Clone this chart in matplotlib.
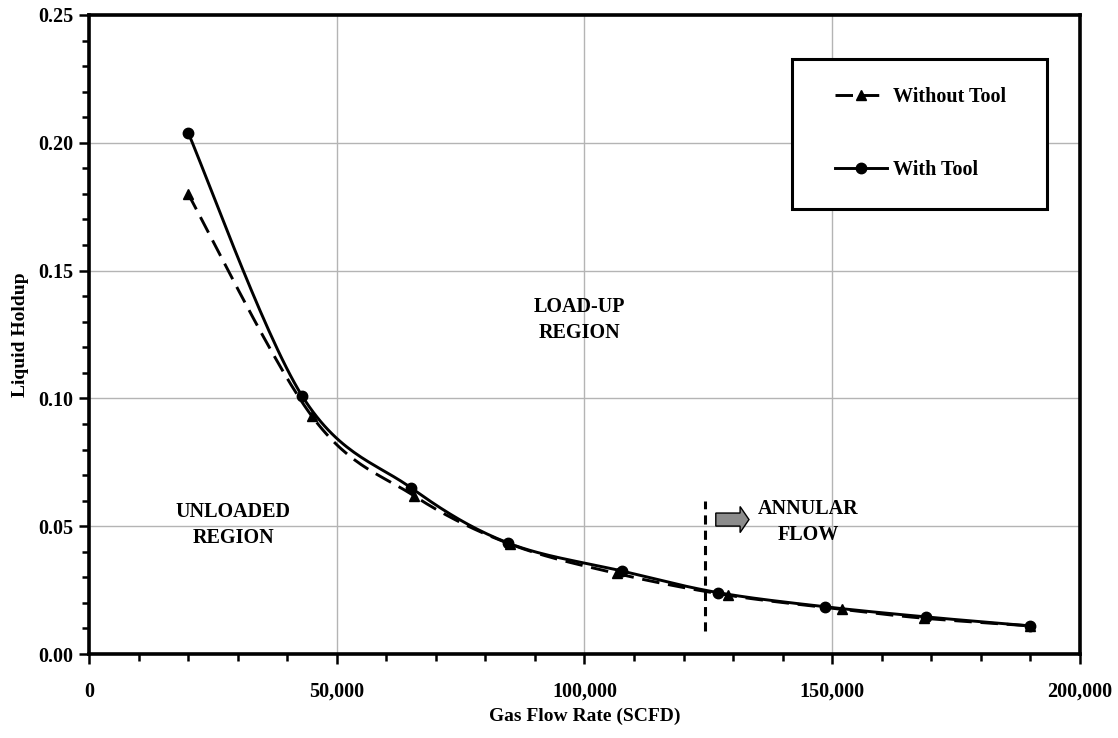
import numpy as np
import matplotlib
matplotlib.use("Agg")
import matplotlib.pyplot as plt
from matplotlib.patches import FancyArrow, Rectangle
from matplotlib.ticker import MultipleLocator, FuncFormatter

# Liquid holdup versus gas flow rate
gas_rate_without = [20000, 45000, 65500, 85000, 106500, 129000, 152000, 168500, 190000]
holdup_without = [0.180, 0.093, 0.062, 0.043, 0.0315, 0.023, 0.0175, 0.014, 0.011]

gas_rate_with = [20000, 43000, 65000, 84500, 107500, 127000, 148500, 169000, 190000]
holdup_with = [0.204, 0.101, 0.065, 0.0435, 0.0325, 0.024, 0.0185, 0.0145, 0.011]

series_labels = ["Without Tool", "With Tool"]
annular_boundary = 124300

plt.rcParams["font.family"] = ["Liberation Serif", "DejaVu Serif"]
plt.rcParams["font.weight"] = "bold"


def smooth_curve(x, y, n=30):
    """Bezier smoothing through the points (Catmull-Rom style)."""
    p = np.column_stack([x, y]).astype(float)
    ext = np.vstack([p[0], p, p[-1]])
    t = np.linspace(0, 1, n, endpoint=False)[:, None]
    segs = []
    for i in range(len(p) - 1):
        p0, p3 = p[i], p[i + 1]
        b1 = p0 + (ext[i + 2] - ext[i]) / 6.0
        b2 = p3 - (ext[i + 3] - ext[i + 1]) / 6.0
        segs.append((1 - t) ** 3 * p0 + 3 * (1 - t) ** 2 * t * b1
                    + 3 * (1 - t) * t ** 2 * b2 + t ** 3 * p3)
    segs.append(p[-1:])
    c = np.vstack(segs)
    marks = [i * n for i in range(len(p))]
    return c[:, 0], c[:, 1], marks


fig = plt.figure(figsize=(11.18, 7.38), dpi=100)
ax = fig.add_axes([0.0796, 0.1138, 0.966 - 0.0796, 0.9797 - 0.1138])

xs, ys, mk = smooth_curve(gas_rate_without, holdup_without)
ax.plot(xs, ys, color="black", lw=2.1, dashes=(6, 3), marker="^", ms=7.5,
        markevery=mk, label=series_labels[0], zorder=3)

xs, ys, mk = smooth_curve(gas_rate_with, holdup_with)
ax.plot(xs, ys, color="black", lw=2.1, marker="o", ms=7.5,
        markevery=mk, label=series_labels[1], zorder=3)

# boundary of annular flow
ax.plot([annular_boundary, annular_boundary], [0.009, 0.060], color="black",
        lw=2.2, dashes=(3, 2), zorder=3)
ax.add_patch(FancyArrow(126500, 0.0526, 6700, 0, width=0.0051,
                        head_width=0.0102, head_length=1800,
                        length_includes_head=True, fc="#8c8c8c", ec="black",
                        lw=1, zorder=3))

txt_kw = dict(ha="center", va="center", fontsize=14.5, fontweight="bold",
              linespacing=1.35)
ax.text(99000, 0.1307, "LOAD-UP\nREGION", **txt_kw)
ax.text(29100, 0.0505, "UNLOADED\nREGION", **txt_kw)
ax.text(145100, 0.0516, "ANNULAR\nFLOW", **txt_kw)

ax.set_xlim(0, 200000)
ax.set_ylim(0, 0.25)
ax.xaxis.set_major_locator(MultipleLocator(50000))
ax.xaxis.set_minor_locator(MultipleLocator(10000))
ax.yaxis.set_major_locator(MultipleLocator(0.05))
ax.yaxis.set_minor_locator(MultipleLocator(0.01))
ax.xaxis.set_major_formatter(FuncFormatter(lambda v, p: f"{v:,.0f}"))
ax.yaxis.set_major_formatter(FuncFormatter(lambda v, p: f"{v:.2f}"))
ax.tick_params(which="major", direction="out", length=7, width=1.8,
               labelsize=14.5, pad=4)
ax.tick_params(which="minor", direction="out", length=5, width=1.8)
ax.tick_params(axis="x", which="major", pad=13)
for lab in ax.get_xticklabels() + ax.get_yticklabels():
    lab.set_fontweight("bold")

ax.grid(True, which="major", color="#b4b4b4", lw=1)
ax.set_axisbelow(True)
for s in ax.spines.values():
    s.set_linewidth(2.6)

ax.set_xlabel("Gas Flow Rate (SCFD)", fontsize=14, fontweight="bold", labelpad=4)
ax.set_ylabel("Liquid Holdup", fontsize=14, fontweight="bold", labelpad=7)

# legend box
ax.add_patch(Rectangle((0.7094, 0.6964), 0.2573, 0.2347, transform=ax.transAxes,
                       fc="white", ec="black", lw=2.2, zorder=4, clip_on=False))
leg = ax.legend(loc="upper left", bbox_to_anchor=(0.7427, 0.903), frameon=False,
                borderpad=0, handlelength=2.6, handletextpad=0.3,
                labelspacing=2.65, prop={"size": 14.5, "weight": "bold"})
leg.set_zorder(5)

fig.savefig("out.png", dpi=100)
